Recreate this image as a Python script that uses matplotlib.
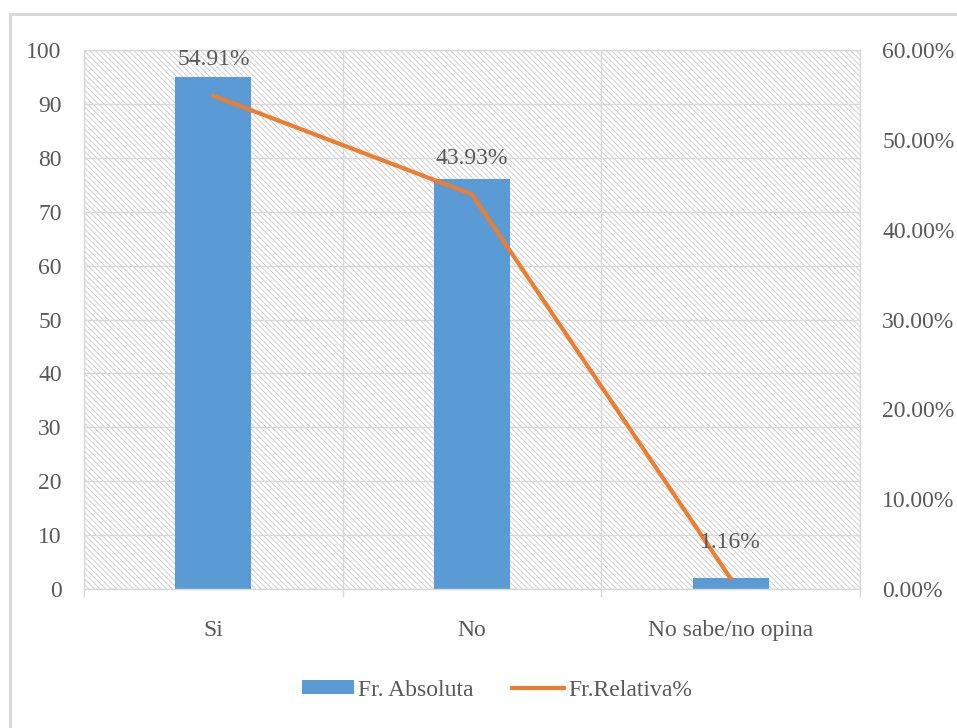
import matplotlib
matplotlib.use("Agg")
import matplotlib.pyplot as plt
from matplotlib.patches import Rectangle, Patch
from matplotlib.lines import Line2D
from matplotlib.ticker import FuncFormatter

categories = ["Si", "No", "No sabe/no opina"]
fr_absoluta = [95, 76, 2]
fr_relativa = [54.91, 43.93, 1.16]
left_ticks = [0, 10, 20, 30, 40, 50, 60, 70, 80, 90, 100]
right_ticks = [0, 10, 20, 30, 40, 50, 60]

BLUE = "#5B9BD5"
ORANGE = "#ED7D31"
GRID = "#D9D9D9"
TEXT = "#595959"
FS = 17

plt.rcParams["font.family"] = ["Liberation Serif", "DejaVu Serif"]
plt.rcParams["hatch.linewidth"] = 0.7
plt.rcParams["hatch.color"] = "#D0D0D0"

fig = plt.figure(figsize=(9.57, 7.28), dpi=100)
W, H = 957, 728

# outer chart frame (left and top edges visible)
fig.add_artist(Line2D([10 / W, 10 / W], [0, 1 - 14 / H], color=GRID, lw=2.2,
                      transform=fig.transFigure))
fig.add_artist(Line2D([10 / W, 1], [1 - 14 / H, 1 - 14 / H], color=GRID, lw=2.2,
                      transform=fig.transFigure))

ax = fig.add_axes([84 / W, 1 - 589 / H, (860 - 84) / W, (589 - 50) / H])
ax.set_xlim(-0.5, 2.5)
ax.set_ylim(0, 100)

# hatched plot area
ax.add_patch(Rectangle((0, 0), 1, 1, transform=ax.transAxes, facecolor="white",
                       edgecolor="#D0D0D0", hatch="\\" * 6, lw=0, zorder=0.1))

ax.set_axisbelow(True)
ax.grid(True, axis="both", which="major", color=GRID, lw=1.0)
for s in ax.spines.values():
    s.set_color(GRID)
    s.set_linewidth(1.0)

ax.set_yticks(left_ticks)
ax.tick_params(axis="y", length=0, pad=16, labelsize=FS, labelcolor=TEXT)
ax.set_xticks([-0.5, 0.5, 1.5, 2.5])
ax.set_xticklabels([])
ax.tick_params(axis="x", which="major", direction="out", length=6, color=GRID, width=1)
ax.set_xticks(range(len(categories)), minor=True)
ax.set_xticklabels(categories, minor=True)
ax.tick_params(axis="x", which="minor", length=0, pad=22, labelsize=FS, labelcolor=TEXT)

x = list(range(len(categories)))
ax.bar(x, fr_absoluta, width=0.294, color=BLUE, zorder=2)

ax2 = ax.twinx()
ax2.set_ylim(0, 60)
ax2.set_yticks(right_ticks)
ax2.yaxis.set_major_formatter(FuncFormatter(lambda v, p: f"{v:.2f}%"))
ax2.tick_params(axis="y", length=0, pad=16, labelsize=FS, labelcolor=TEXT)
for s in ax2.spines.values():
    s.set_visible(False)
ax2.plot(x, fr_relativa, color=ORANGE, lw=3, solid_capstyle="round", zorder=3)
for xi, v in zip(x, fr_relativa):
    ax2.annotate(f"{v:.2f}%", (xi, v), xytext=(0, 26), textcoords="offset points",
                 ha="center", va="center", fontsize=FS, color=TEXT)

handles = [Patch(facecolor=BLUE, edgecolor="none"),
           Line2D([0], [0], color=ORANGE, lw=3)]
fig.legend(handles, ["Fr. Absoluta", "Fr.Relativa%"], loc="center",
           bbox_to_anchor=(497 / W, 1 - 690 / H), ncol=2, frameon=False,
           fontsize=FS, labelcolor=TEXT, handlelength=2.2, handleheight=0.55,
           handletextpad=0.2, columnspacing=1.6)

fig.savefig("out.png", dpi=100)
